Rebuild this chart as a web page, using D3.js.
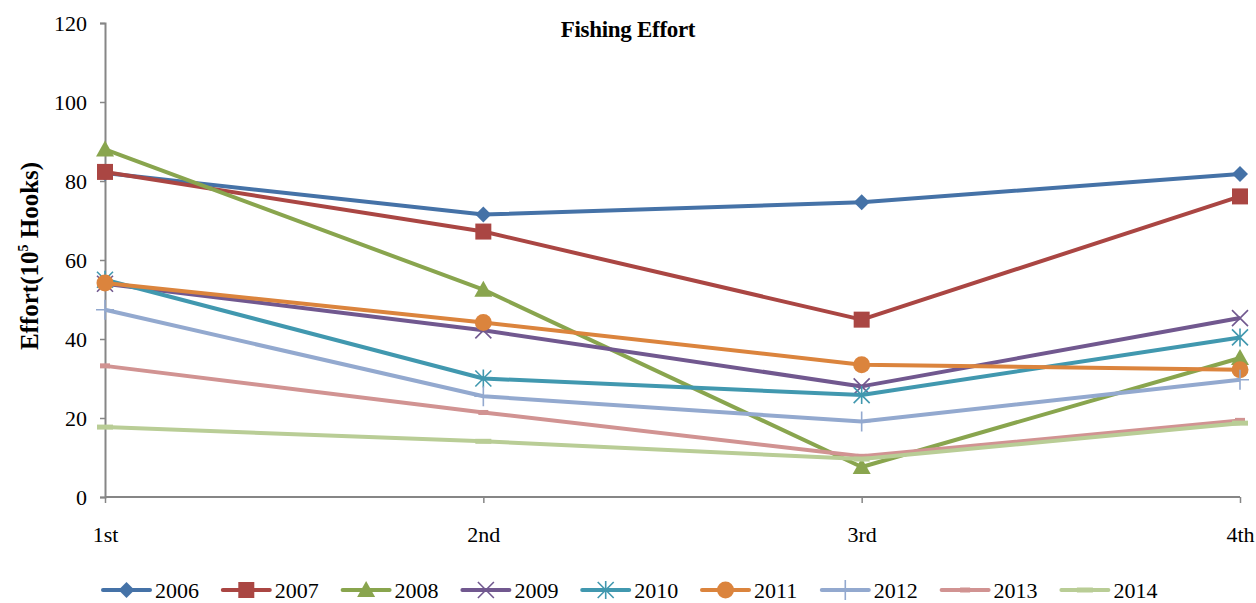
<!DOCTYPE html>
<html>
<head>
<meta charset="utf-8">
<script src="https://cdn.jsdelivr.net/npm/d3@7"></script>
<style>
  html, body { margin: 0; padding: 0; background: #fff; }
  svg { display: block; }
  text { font-family: "Liberation Serif", "Times New Roman", serif; fill: #000; }
</style>
</head>
<body>
<svg id="chart" width="1256" height="603"></svg>
<script>
// Quarterly fishing effort by year
const quarters = ["1st", "2nd", "3rd", "4th"];
const years = ["2006", "2007", "2008", "2009", "2010", "2011", "2012", "2013", "2014"];
const effort2006 = [82.0, 71.5, 74.6, 81.8];
const effort2007 = [82.3, 67.2, 44.9, 76.1];
const effort2008 = [88.0, 52.5, 7.6, 35.2];
const effort2009 = [54.0, 42.2, 28.0, 45.3];
const effort2010 = [55.0, 30.0, 25.8, 40.4];
const effort2011 = [54.2, 44.2, 33.5, 32.2];
const effort2012 = [47.4, 25.5, 19.1, 29.7];
const effort2013 = [33.2, 21.4, 10.3, 19.4];
const effort2014 = [17.7, 14.1, 9.6, 18.7];
const yTicks = [0, 20, 40, 60, 80, 100, 120];

const seriesValues = [effort2006, effort2007, effort2008, effort2009, effort2010,
                      effort2011, effort2012, effort2013, effort2014];
const colors = ["#4572A7", "#AA4643", "#89A54E", "#71588F", "#4198AF",
                "#DB843D", "#93A9CF", "#D19392", "#B9CD96"];
const markers = ["diamond", "square", "triangle", "x", "star", "circle", "plus", "dash", "longdash"];

const series = years.map((yr, i) => ({ year: yr, values: seriesValues[i], color: colors[i], marker: markers[i] }));

const svg = d3.select("#chart");
const plotLeft = 105, plotRight = 1240, plotTop = 23, plotBottom = 497;
const axisColor = "#868686";
const labelSize = 22;

const x = d3.scalePoint().domain(quarters).range([plotLeft, plotRight]);
const y = d3.scaleLinear().domain([0, 120]).range([plotBottom, plotTop]);

// Y axis
const yAxis = svg.append("g").attr("transform", `translate(${plotLeft},0)`)
  .call(d3.axisLeft(y).tickValues(yTicks).tickSize(5).tickPadding(13));
yAxis.select(".domain").attr("stroke", axisColor).attr("stroke-width", 2);
yAxis.selectAll(".tick line").attr("stroke", axisColor).attr("stroke-width", 1.5);
yAxis.selectAll(".tick text").attr("font-size", labelSize).attr("font-family", "Liberation Serif").attr("fill", "#000");

// X axis
const xAxis = svg.append("g").attr("transform", `translate(0,${plotBottom})`)
  .call(d3.axisBottom(x).tickSize(6).tickPadding(23));
xAxis.select(".domain").attr("stroke", axisColor).attr("stroke-width", 2)
  .attr("d", `M${plotLeft},0H${plotRight}`);
xAxis.selectAll(".tick line").attr("stroke", axisColor).attr("stroke-width", 1.5);
xAxis.selectAll(".tick text").attr("font-size", labelSize).attr("font-family", "Liberation Serif").attr("fill", "#000");

// Title
svg.append("text").attr("x", 628).attr("y", 37).attr("text-anchor", "middle")
  .attr("font-size", 23).attr("font-weight", "bold").attr("letter-spacing", -0.3).text("Fishing Effort");

// Y axis title
const yt = svg.append("text")
  .attr("transform", "translate(38,256) rotate(-90)")
  .attr("text-anchor", "middle").attr("font-size", 25).attr("font-weight", "bold");
yt.append("tspan").text("Effort(10");
yt.append("tspan").attr("font-size", 14).attr("dy", -10).text("5");
yt.append("tspan").attr("dy", 10).text(" Hooks)");

// Marker drawing
function drawMarker(g, type, color, cx, cy) {
  const m = g.append("g").attr("transform", `translate(${cx},${cy})`);
  switch (type) {
    case "diamond":
      m.append("path").attr("d", "M0,-8L8,0L0,8L-8,0Z").attr("fill", color);
      break;
    case "square":
      m.append("rect").attr("x", -8).attr("y", -8).attr("width", 16).attr("height", 16).attr("fill", color);
      break;
    case "triangle":
      m.append("path").attr("d", "M0,-9L9,7L-9,7Z").attr("fill", color);
      break;
    case "x":
      m.append("path").attr("d", "M-8,-8L8,8M-8,8L8,-8").attr("stroke", color).attr("stroke-width", 1.6);
      break;
    case "star":
      m.append("path").attr("d", "M-8,-8L8,8M-8,8L8,-8M0,-9V9").attr("stroke", color).attr("stroke-width", 1.6);
      break;
    case "circle":
      m.append("circle").attr("r", 8.5).attr("fill", color);
      break;
    case "plus":
      m.append("path").attr("d", "M-9,0H9M0,-10V10").attr("stroke", color).attr("stroke-width", 1.6);
      break;
    case "dash":
      m.append("rect").attr("x", -5).attr("y", -2.5).attr("width", 10).attr("height", 5).attr("fill", color);
      break;
    case "longdash":
      m.append("rect").attr("x", -8).attr("y", -2.5).attr("width", 16).attr("height", 5).attr("fill", color);
      break;
  }
}

const line = d3.line().x((d, i) => x(quarters[i])).y(d => y(d));

const plot = svg.append("g");
series.forEach(s => {
  const g = plot.append("g");
  g.append("path").attr("d", line(s.values)).attr("fill", "none")
    .attr("stroke", s.color).attr("stroke-width", 4).attr("stroke-linejoin", "round");
  s.values.forEach((v, i) => drawMarker(g, s.marker, s.color, x(quarters[i]), y(v)));
});

// Legend
const legend = svg.append("g");
series.forEach((s, i) => {
  const lx = 103 + i * 119.8, ly = 590;
  const g = legend.append("g");
  g.append("line").attr("x1", lx).attr("x2", lx + 47).attr("y1", ly).attr("y2", ly)
    .attr("stroke", s.color).attr("stroke-width", 4).attr("stroke-linecap", "round");
  drawMarker(g, s.marker, s.color, lx + 23.5, ly);
  g.append("text").attr("x", lx + 52).attr("y", ly + 8).attr("font-size", labelSize).text(s.year);
});
</script>
</body>
</html>
